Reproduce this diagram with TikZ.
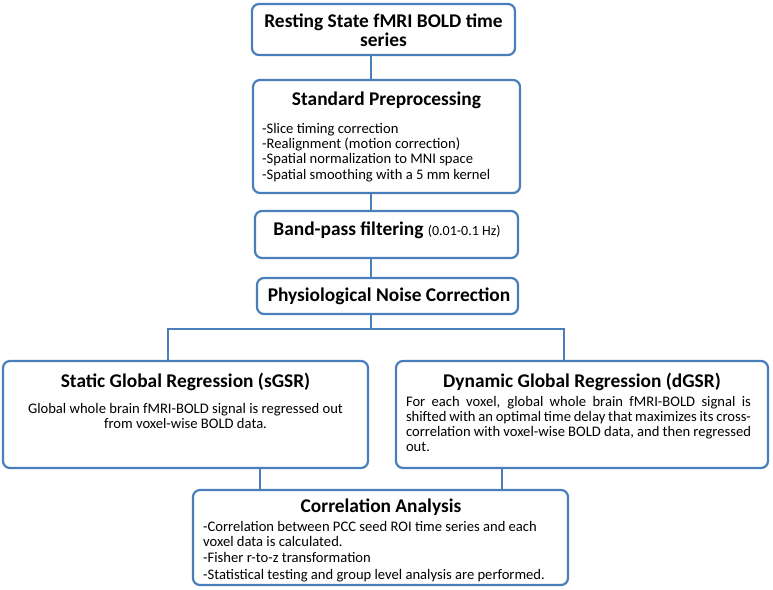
\documentclass[tikz,border=0pt]{standalone}
\usepackage{fontspec}
\setmainfont{Carlito}
\usepackage{xcolor}
\usetikzlibrary{positioning}
\definecolor{boxblue}{HTML}{4A7EBB}

\begin{document}
\begin{tikzpicture}[x=1pt,y=-1pt]

\useasboundingbox (0,0) rectangle (773,589);

\tikzstyle{flowbox} = [draw=boxblue, fill=white, line width=2.2pt, rectangle, rounded corners=7pt, inner sep=0pt]
\tikzstyle{headtext} = [font=\fontsize{19.4}{19}\selectfont\bfseries, align=center, inner sep=0pt]
\tikzstyle{bodytext} = [font=\fontsize{14.6}{15.3}\selectfont, inner sep=0pt]
\tikzstyle{link} = [draw=boxblue, line width=2.2pt]

% boxes
\node (rs) [flowbox, minimum width=263pt, minimum height=51pt] at (383.5,29.5) {};
\node (prep) [flowbox, minimum width=267pt, minimum height=113pt] at (386.5,136.5) {};
\node (band) [flowbox, minimum width=263pt, minimum height=47pt] at (386.5,234.5) {};
\node (phys) [flowbox, minimum width=261pt, minimum height=36pt] at (387.5,296) {};
\node (sgsr) [flowbox, minimum width=365pt, minimum height=107pt] at (185.5,414.5) {};
\node (dgsr) [flowbox, minimum width=372pt, minimum height=107pt] at (582,414.5) {};
\node (corr) [flowbox, minimum width=375pt, minimum height=95pt] at (380.5,537.5) {};

% texts
\node (rstext) [headtext] at (383.5,30) {Resting State fMRI BOLD time\\series};
\node (preptitle) [headtext] at (386.5,100) {Standard Preprocessing};
\node (preplist) [bodytext, align=left, anchor=north west] at (262,123) {-Slice timing correction\\-Realignment (motion correction)\\-Spatial normalization to MNI space\\-Spatial smoothing with a 5 mm kernel};
\node (bandtext) [headtext] at (387,230) {Band-pass filtering {\fontsize{14}{15}\selectfont\mdseries (0.01-0.1 Hz)}};
\node (phystext) [headtext] at (389,296) {Physiological Noise Correction};

\node (sgsrtitle) [headtext] at (185.5,382) {Static Global Regression (sGSR)};
\node (sgsrbody) [bodytext, align=center, anchor=north] at (185.5,403) {Global whole brain fMRI-BOLD signal is regressed out\\from voxel-wise BOLD data.};

\node (dgsrtitle) [headtext] at (582,382) {Dynamic Global Regression (dGSR)};
\node (dgsrbody) [bodytext, text width=345pt, align=justify, anchor=north, font=\fontsize{14.6}{14.8}\selectfont] at (578.5,396.5) {For each voxel, global whole brain fMRI-BOLD signal is shifted with an optimal time delay that maximizes its cross-correlation with voxel-wise BOLD data, and then regressed out.};

\node (corrtitle) [headtext] at (381,507) {Correlation Analysis};
\node (corrlist) [bodytext, align=left, anchor=north west] at (203,521) {-Correlation between PCC seed ROI time series and each\\voxel data is calculated.\\[1pt]-Fisher r-to-z transformation\\[1pt]-Statistical testing and group level analysis are performed.};

% connectors
\coordinate (spine) at (371,0);
\coordinate (split) at (371,329);
\coordinate (lbranch) at (168,0);
\coordinate (rbranch) at (564,0);
\coordinate (lmerge) at (260,0);
\coordinate (rmerge) at (502,0);

\draw [link] (rs.south -| spine) -- (prep.north -| spine);
\draw [link] (prep.south -| spine) -- (band.north -| spine);
\draw [link] (band.south -| spine) -- (phys.north -| spine);
\draw [link] (phys.south -| spine) -- (split);
\draw [link] (sgsr.north -| lbranch) |- (split) -| (dgsr.north -| rbranch);
\draw [link] (sgsr.south -| lmerge) -- (corr.north -| lmerge);
\draw [link] (dgsr.south -| rmerge) -- (corr.north -| rmerge);

\end{tikzpicture}
\end{document}
